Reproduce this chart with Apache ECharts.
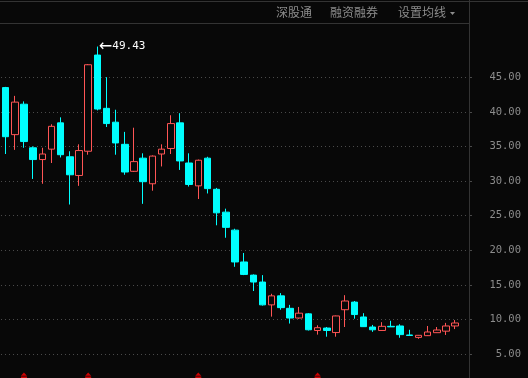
<!DOCTYPE html>
<html><head><meta charset="utf-8">
<script src="https://cdn.jsdelivr.net/npm/echarts@6/dist/echarts.min.js"></script>
<style>html,body{margin:0;padding:0;background:#080808;overflow:hidden}#c{width:528px;height:378px;}</style>
</head><body><div id="c"></div>
<script>
// categories (trading periods) — last one is an empty slot on the right
const categories = ['1','2','3','4','5','6','7','8','9','10','11','12','13','14','15','16','17','18','19','20','21','22','23','24','25','26','27','28','29','30','31','32','33','34','35','36','37','38','39','40','41','42','43','44','45','46','47','48','49','50',''];
const opens  = [43.5,36.7,41.1,34.8,33.1,34.6,38.4,33.5,30.8,34.3,48.2,40.5,38.5,35.3,31.4,33.3,29.6,33.9,34.7,38.4,32.6,29.3,33.3,28.8,25.5,22.9,18.3,16.4,15.4,12.1,13.4,11.6,10.2,10.8,8.4,8.75,8.1,11.4,12.5,10.35,8.9,8.4,9.0,9.05,7.75,7.4,7.65,8.08,8.3,9.05];
const closes = [36.4,41.4,35.7,33.1,33.9,37.9,33.8,30.9,34.4,46.8,40.4,38.3,35.5,31.3,32.8,29.9,33.6,34.6,38.3,32.9,29.5,33.0,28.9,25.4,23.3,18.3,16.5,15.4,12.1,13.4,11.7,10.2,10.9,8.5,8.8,8.4,10.5,12.66,10.7,8.95,8.5,9.0,8.92,7.8,7.68,7.7,8.18,8.47,9.05,9.48];
const lows   = [33.9,34.5,34.8,30.3,29.6,32.6,33.4,26.6,29.3,33.8,40.2,37.8,33.8,30.9,31.3,26.7,28.6,32.1,33.9,31.6,29.2,27.4,28.2,23.6,21.8,17.6,16.4,14.1,12.0,10.4,11.4,9.4,10.1,8.4,7.8,7.5,7.5,8.9,10.1,8.9,8.2,8.35,8.9,7.35,7.65,7.2,7.6,8.05,7.75,8.6];
const highs  = [43.6,42.3,41.5,35.0,34.8,38.2,39.2,34.3,35.3,46.9,49.43,45.0,40.3,37.1,37.7,34.0,33.7,35.3,39.5,39.8,34.0,33.1,33.5,29.0,26.0,23.1,19.6,16.5,16.4,13.7,13.8,12.1,11.8,10.9,9.15,8.9,10.55,13.5,12.66,10.9,9.2,9.6,9.8,9.3,8.5,7.75,9.05,8.9,9.5,9.9];
// event marker positions (category indices)
const markerIdx = [2, 9, 21, 34];
// y-axis ticks
const yMin = 5, yMax = 50, yStep = 5;
const topMenu = ['深股通', '融资融券', '设置均线'];

const candleData = opens.map((o, i) => [o, closes[i], lows[i], highs[i]]);

const chart = echarts.init(document.getElementById('c'), null, {renderer: 'canvas'});
const gridLineColors = [];
for (let v = yMin; v <= yMax; v += yStep) gridLineColors.push(v === yMax ? 'rgba(0,0,0,0)' : '#4a4a4a');

chart.setOption({
  backgroundColor: '#080808',
  animation: false,
  grid: [
    {left: 1, right: 59, top: 42.6, bottom: 24},
    {left: 1, right: 59, top: 373, height: 6}
  ],
  xAxis: [
    {type: 'category', data: categories, gridIndex: 0, boundaryGap: true,
     axisLine: {show: false}, axisTick: {show: false}, axisLabel: {show: false}, splitLine: {show: false}},
    {type: 'category', data: categories, gridIndex: 1, boundaryGap: true, show: false}
  ],
  yAxis: [
    {type: 'value', gridIndex: 0, position: 'right', min: yMin, max: yMax, interval: yStep, scale: true,
     axisLine: {show: false},
     axisTick: {show: true, length: 3, lineStyle: {color: '#4a4a4a'}},
     axisLabel: {show: true, showMaxLabel: false, align: 'right', margin: 52, color: '#8c8c8c',
       fontFamily: 'DejaVu Sans Mono', fontSize: 10.5,
       formatter: v => v >= yMax ? '' : v.toFixed(2)},
     splitLine: {show: true, showMaxLine: false, lineStyle: {color: gridLineColors, width: 1, type: [1, 3]}}
    },
    {type: 'value', gridIndex: 1, min: 0, max: 1, show: false}
  ],
  series: [
    {
      type: 'candlestick', xAxisIndex: 0, yAxisIndex: 0,
      data: candleData, barWidth: 7,
      itemStyle: {color: '#080808', color0: '#00ffff', borderColor: '#ff5555', borderColor0: '#00ffff', borderWidth: 1},
      markPoint: {
        symbol: 'circle', symbolSize: 1,
        itemStyle: {color: 'rgba(0,0,0,0)'},
        data: [{type: 'max', valueDim: 'highest'}],
        label: {
          show: true, position: 'right', distance: 1,
          formatter: p => '{a|←}{b|' + p.value + '}',
          rich: {
            a: {color: '#ffffff', fontFamily: 'DejaVu Sans', fontSize: 16},
            b: {color: '#ffffff', fontFamily: 'DejaVu Sans Mono', fontSize: 11}
          }
        }
      }
    },
    {
      type: 'scatter', xAxisIndex: 1, yAxisIndex: 1,
      data: markerIdx.map(i => [i, 0.5]),
      symbol: 'path://M3,0 L6,3.2 L0,3.2 Z M0,4 L6,4 L6,6 L0,6 Z',
      symbolSize: [6, 6], silent: true,
      itemStyle: {color: '#ff0000'}
    }
  ],
  graphic: [
    {type: 'line', shape: {x1: 0, y1: 1.5, x2: 528, y2: 1.5}, style: {stroke: '#333333', lineWidth: 1}, z: 10},
    {type: 'line', shape: {x1: 0, y1: 23.5, x2: 469, y2: 23.5}, style: {stroke: '#333333', lineWidth: 1}, z: 10},
    {type: 'line', shape: {x1: 469.5, y1: 0, x2: 469.5, y2: 378}, style: {stroke: '#333333', lineWidth: 1}, z: 10},
    {type: 'text', left: 276, top: 6, style: {text: topMenu[0], fill: '#8c8c8c', font: '12px "Noto Sans CJK SC"'}, z: 10},
    {type: 'text', left: 330, top: 6, style: {text: topMenu[1], fill: '#8c8c8c', font: '12px "Noto Sans CJK SC"'}, z: 10},
    {type: 'text', left: 398, top: 6, style: {text: topMenu[2], fill: '#8c8c8c', font: '12px "Noto Sans CJK SC"'}, z: 10},
    {type: 'polygon', shape: {points: [[450, 12], [455, 12], [452.5, 15]]}, style: {fill: '#8c8c8c'}, z: 10}
  ]
});
</script>
</body></html>
